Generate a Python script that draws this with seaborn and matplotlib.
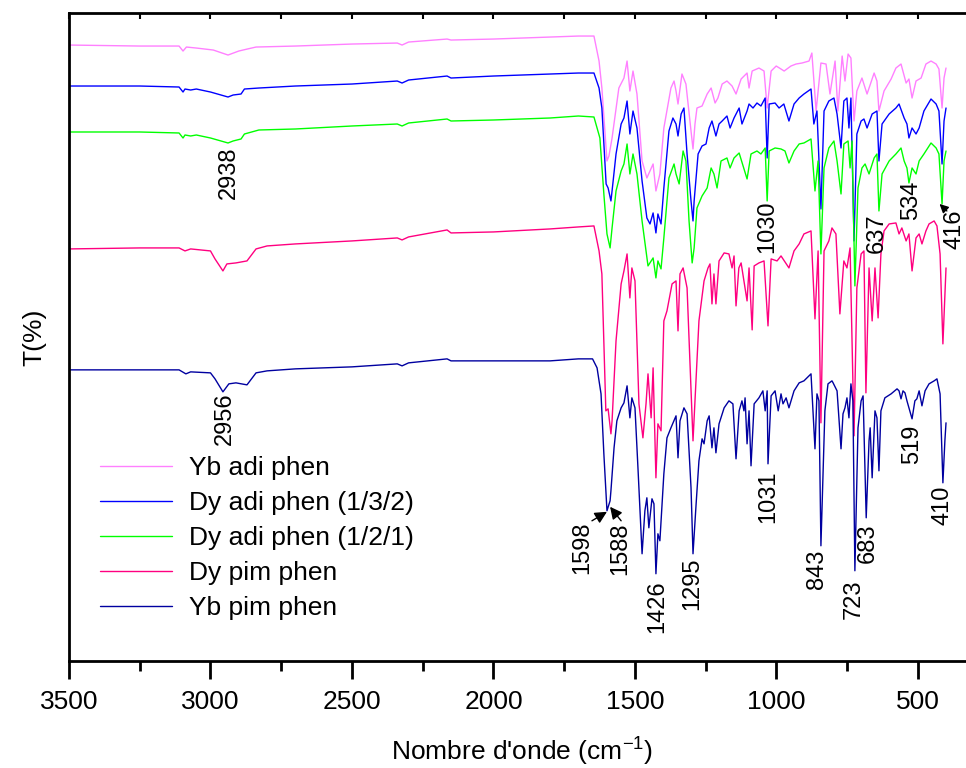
import numpy as np
import pandas as pd
import matplotlib
matplotlib.use('Agg')
import matplotlib.pyplot as plt
import seaborn as sns
from matplotlib.lines import Line2D
from matplotlib.ticker import MultipleLocator

# IR spectra: (wavenumber cm-1, T in arbitrary offset units)
yb_adi = [(4000, 616), (3500, 616), (3250, 615), (3111, 615), (3097, 610), (3085, 614), (3050, 613),
          (2990, 611), (2938, 606), (2900, 610), (2870, 612), (2839, 614), (2700, 615), (2500, 617),
          (2340, 618), (2323, 616), (2300, 619), (2164, 622), (2150, 621), (2000, 622), (1800, 624),
          (1700, 625), (1645, 625), (1627, 600), (1617, 573), (1599, 500), (1592, 505), (1581, 523),
          (1557, 573), (1539, 583), (1528, 600), (1518, 570), (1507, 590), (1493, 567), (1475, 500),
          (1458, 483), (1436, 497), (1426, 470), (1412, 487), (1398, 533), (1373, 573), (1362, 580),
          (1355, 570), (1348, 557), (1334, 587), (1320, 577), (1302, 530), (1295, 512), (1288, 537),
          (1281, 553), (1263, 555), (1245, 567), (1231, 573), (1217, 558), (1207, 563), (1192, 577),
          (1175, 580), (1157, 575), (1143, 567), (1125, 582), (1104, 588), (1097, 573), (1086, 590),
          (1062, 593), (1044, 590), (1033, 553), (1019, 590), (1001, 595), (984, 592), (973, 590),
          (949, 595), (931, 597), (910, 598), (885, 600), (875, 608), (860, 550), (843, 598),
          (825, 597), (811, 567), (793, 600), (783, 550), (768, 605), (758, 580), (747, 607),
          (737, 603), (726, 540), (716, 570), (698, 583), (680, 567), (655, 588), (645, 580),
          (638, 550), (620, 570), (595, 582), (578, 593), (560, 597), (542, 578), (532, 582),
          (521, 563), (507, 580), (489, 583), (472, 597), (454, 600), (436, 597), (426, 592),
          (415, 553), (408, 583), (401, 593)]

dy_adi_132 = [(4000, 575), (3500, 575), (3250, 575), (3111, 574), (3097, 569), (3090, 572), (3070, 571),
              (3050, 572), (3000, 569), (2938, 564), (2920, 566), (2892, 567), (2880, 572), (2829, 573),
              (2700, 575), (2500, 577), (2340, 580), (2323, 578), (2300, 581), (2164, 585), (2150, 583),
              (2000, 585), (1800, 587), (1700, 588), (1645, 588), (1627, 573), (1617, 553), (1602, 477),
              (1595, 473), (1585, 460), (1581, 470), (1567, 507), (1549, 537), (1539, 543), (1528, 560),
              (1518, 527), (1507, 550), (1493, 533), (1475, 480), (1458, 443), (1447, 437), (1436, 448),
              (1426, 428), (1419, 447), (1408, 437), (1398, 473), (1380, 530), (1366, 543), (1355, 537),
              (1348, 525), (1337, 547), (1327, 553), (1316, 507), (1302, 460), (1295, 440), (1291, 460),
              (1277, 507), (1263, 515), (1249, 517), (1238, 533), (1228, 540), (1214, 525), (1203, 537),
              (1192, 540), (1175, 545), (1164, 533), (1150, 543), (1132, 553), (1122, 537), (1104, 550),
              (1097, 557), (1083, 553), (1069, 558), (1055, 555), (1040, 563), (1033, 503), (1026, 557),
              (1005, 558), (991, 553), (974, 557), (956, 540), (938, 557), (920, 563), (903, 567),
              (878, 572), (868, 537), (857, 550), (843, 452), (832, 550), (815, 560), (797, 563),
              (786, 547), (772, 513), (762, 560), (751, 563), (744, 533), (737, 563), (726, 420),
              (716, 527), (701, 540), (691, 542), (680, 533), (662, 547), (645, 550), (638, 500),
              (627, 537), (602, 547), (578, 553), (567, 557), (549, 543), (539, 537), (532, 523),
              (521, 533), (507, 527), (496, 533), (479, 550), (454, 562), (436, 557), (426, 550),
              (415, 497), (408, 540), (401, 553)]

dy_adi_121 = [(4000, 529), (3500, 529), (3250, 529), (3111, 528), (3097, 523), (3090, 526), (3070, 525),
              (3050, 526), (3000, 523), (2938, 518), (2920, 520), (2892, 522), (2880, 527), (2829, 531),
              (2700, 532), (2500, 535), (2340, 537), (2323, 535), (2300, 538), (2164, 542), (2150, 540),
              (2000, 541), (1800, 543), (1700, 545), (1645, 544), (1624, 523), (1610, 467), (1599, 427),
              (1588, 413), (1581, 433), (1567, 470), (1549, 490), (1539, 497), (1528, 517), (1518, 487),
              (1507, 507), (1493, 487), (1475, 440), (1454, 395), (1436, 403), (1426, 383), (1419, 400),
              (1408, 392), (1398, 423), (1380, 483), (1362, 497), (1355, 487), (1344, 477), (1330, 510),
              (1320, 500), (1309, 440), (1298, 398), (1291, 413), (1281, 453), (1263, 465), (1245, 473),
              (1231, 493), (1221, 487), (1210, 473), (1196, 500), (1175, 503), (1164, 493), (1150, 503),
              (1132, 508), (1104, 482), (1090, 507), (1069, 510), (1055, 507), (1040, 513), (1033, 460),
              (1026, 510), (1005, 513), (984, 512), (970, 510), (956, 498), (938, 510), (920, 517),
              (903, 518), (878, 522), (864, 470), (853, 500), (843, 407), (832, 493), (815, 513),
              (797, 520), (786, 500), (772, 467), (762, 517), (747, 520), (740, 493), (733, 520),
              (723, 375), (712, 473), (698, 493), (687, 497), (673, 487), (655, 503), (645, 507),
              (638, 450), (627, 487), (602, 500), (578, 507), (560, 513), (549, 500), (539, 493),
              (532, 478), (521, 493), (507, 487), (496, 500), (479, 507), (454, 518), (436, 513),
              (426, 507), (415, 457), (408, 500), (401, 510)]

dy_pim = [(4000, 412), (3500, 412), (3250, 413), (3111, 413), (3090, 410), (3070, 412), (3000, 410),
          (2984, 402), (2956, 390), (2942, 397), (2910, 398), (2871, 400), (2839, 412), (2800, 415),
          (2700, 417), (2500, 420), (2340, 423), (2323, 421), (2300, 424), (2164, 431), (2150, 428),
          (2000, 429), (1800, 432), (1700, 434), (1645, 435), (1627, 410), (1617, 387), (1603, 250),
          (1595, 252), (1585, 227), (1581, 240), (1567, 320), (1549, 377), (1539, 390), (1528, 407),
          (1518, 363), (1511, 393), (1500, 380), (1486, 257), (1472, 223), (1461, 257), (1454, 287),
          (1443, 243), (1436, 293), (1426, 183), (1419, 237), (1408, 230), (1398, 340), (1387, 350),
          (1369, 377), (1355, 380), (1348, 330), (1341, 387), (1330, 393), (1316, 373), (1295, 220),
          (1274, 340), (1256, 380), (1242, 393), (1235, 397), (1228, 357), (1221, 387), (1214, 357),
          (1203, 400), (1185, 408), (1168, 407), (1157, 393), (1150, 405), (1143, 355), (1133, 393),
          (1125, 398), (1104, 360), (1097, 393), (1086, 331), (1079, 395), (1062, 398), (1044, 400),
          (1030, 335), (1019, 402), (998, 400), (984, 405), (956, 393), (938, 410), (920, 417),
          (903, 427), (878, 430), (864, 342), (853, 410), (843, 238), (832, 410), (815, 420),
          (804, 433), (790, 427), (776, 347), (762, 400), (751, 393), (740, 413), (726, 225),
          (716, 373), (701, 407), (691, 410), (684, 268), (673, 393), (662, 340), (652, 393),
          (641, 343), (631, 407), (620, 430), (602, 437), (578, 438), (567, 427), (557, 433),
          (542, 420), (532, 427), (521, 390), (507, 423), (496, 427), (486, 417), (472, 430),
          (461, 437), (443, 440), (433, 435), (422, 407), (412, 317), (401, 393)]

yb_pim = [(4000, 291), (3500, 291), (3250, 291), (3111, 291), (3087, 287), (3070, 289), (3000, 288),
          (2984, 282), (2956, 269), (2935, 277), (2910, 278), (2871, 276), (2839, 288), (2800, 290),
          (2700, 292), (2500, 294), (2340, 297), (2323, 295), (2300, 298), (2164, 302), (2150, 300),
          (2000, 300), (1800, 300), (1700, 302), (1650, 302), (1634, 293), (1620, 267), (1610, 207),
          (1599, 150), (1588, 160), (1585, 170), (1574, 213), (1564, 240), (1549, 253), (1539, 258),
          (1528, 275), (1518, 243), (1511, 263), (1500, 253), (1489, 190), (1475, 107), (1465, 150),
          (1458, 163), (1451, 133), (1440, 162), (1433, 157), (1426, 87), (1419, 127), (1412, 120),
          (1398, 187), (1387, 223), (1373, 233), (1355, 245), (1348, 203), (1341, 240), (1327, 253),
          (1316, 247), (1302, 173), (1295, 107), (1284, 157), (1274, 200), (1263, 222), (1256, 217),
          (1245, 240), (1238, 245), (1228, 213), (1221, 233), (1214, 208), (1203, 237), (1185, 253),
          (1168, 260), (1154, 257), (1143, 202), (1132, 250), (1122, 260), (1115, 250), (1111, 263),
          (1104, 217), (1097, 250), (1090, 195), (1079, 257), (1062, 263), (1048, 270), (1040, 250),
          (1033, 270), (1030, 197), (1019, 265), (1005, 270), (994, 250), (984, 267), (977, 257),
          (966, 263), (956, 253), (938, 270), (920, 278), (903, 280), (885, 285), (878, 287),
          (864, 212), (857, 267), (850, 260), (843, 115), (829, 250), (818, 277), (804, 280),
          (800, 278), (786, 270), (772, 212), (765, 247), (758, 253), (751, 263), (744, 243),
          (737, 277), (730, 260), (723, 90), (712, 233), (701, 260), (694, 265), (683, 143),
          (673, 220), (669, 233), (662, 183), (652, 250), (645, 243), (638, 190), (631, 250),
          (617, 263), (595, 267), (574, 272), (567, 270), (560, 262), (553, 270), (546, 268),
          (539, 260), (521, 242), (511, 260), (504, 262), (496, 270), (486, 255), (475, 270),
          (461, 277), (443, 280), (433, 282), (422, 267), (412, 178), (405, 220), (401, 238)]

names = ['Yb adi phen', 'Dy adi phen (1/3/2)', 'Dy adi phen (1/2/1)', 'Dy pim phen', 'Yb pim phen']
colors = ['#FF80FF', '#0000FF', '#00FF00', '#FF0080', '#0000A0']
spectra = [yb_adi, dy_adi_132, dy_adi_121, dy_pim, yb_pim]

# peak labels and where the text sits (wavenumber, T)
peak_labels = ['2938', '2956', '1598', '1588', '1426', '1295', '1031', '843', '723', '683', '519', '410',
               '1030', '637', '534', '416']
label_pos = [(2935, 488), (2948, 242), (1687, 113), (1553, 112), (1422, 54), (1298, 77), (1030, 164),
             (857, 91), (726, 61), (677, 118), (521, 217), (415, 155), (1033, 434), (645, 428),
             (525, 461), (372, 432)]

frames = []
for name, spec in zip(names, spectra):
    wn, t = zip(*spec)
    frames.append(pd.DataFrame({'wn': wn, 'T': t, 'sample': name}))
df = pd.concat(frames, ignore_index=True)

sns.set_theme(style='white')
plt.rcParams['font.family'] = ['Liberation Sans', 'DejaVu Sans']
plt.rcParams['mathtext.fontset'] = 'custom'
plt.rcParams['mathtext.rm'] = 'Liberation Sans'
plt.rcParams['mathtext.it'] = 'Liberation Sans'
plt.rcParams['text.color'] = 'black'
plt.rcParams['axes.labelcolor'] = 'black'
plt.rcParams['xtick.color'] = 'black'

fig = plt.figure(figsize=(9.66, 7.68), dpi=100)
ax = fig.add_axes([0.0714, 0.1397, 0.9375, 0.8433])

sns.lineplot(data=df, x='wn', y='T', hue='sample', hue_order=names, palette=colors,
             estimator=None, sort=False, linewidth=1.0, legend=False, ax=ax)

ax.set_xlim(3500, 300)
ax.set_ylim(0, 648)
ax.set_yticks([])
ax.xaxis.set_major_locator(MultipleLocator(500))
ax.xaxis.set_minor_locator(MultipleLocator(250))
ax.tick_params(axis='x', which='major', direction='out', length=13, width=2, labelsize=19,
               pad=8, bottom=True, colors='black')
ax.tick_params(axis='x', which='minor', direction='out', length=7, width=2, bottom=True)
for side in ['left', 'bottom', 'top', 'right']:
    ax.spines[side].set_linewidth(2)
    ax.spines[side].set_color('black')

top = ax.secondary_xaxis('top')
top.xaxis.set_major_locator(MultipleLocator(500))
top.xaxis.set_minor_locator(MultipleLocator(250))
top.tick_params(which='both', direction='in', length=4, width=1.5, labeltop=False)
top.spines['top'].set_visible(False)

ax.set_xlabel("Nombre d'onde (cm$^{-1}$)", fontsize=19, labelpad=16, color='black')
ax.set_ylabel('T(%)', fontsize=19, labelpad=16, color='black')

for lab, (x, y) in zip(peak_labels, label_pos):
    ax.text(x, y, lab, rotation=90, ha='center', va='center', fontsize=17, color='black')

arrow = dict(arrowstyle='-|>', color='black', lw=1, mutation_scale=18, shrinkA=0, shrinkB=0)
ax.annotate('', xy=(1599, 149), xytext=(1652, 140), arrowprops=arrow)
ax.annotate('', xy=(1588, 154), xytext=(1549, 140), arrowprops=arrow)
small_arrow = dict(arrowstyle='-|>', color='black', lw=1, mutation_scale=13, shrinkA=0, shrinkB=0)
ax.annotate('', xy=(424, 457), xytext=(398, 450), arrowprops=small_arrow)

handles = [Line2D([], [], color=c, lw=1.0) for c in colors]
ax.legend(handles, names, loc='upper left', bbox_to_anchor=(0.034, 0.316), frameon=False,
          fontsize=19, handlelength=2.75, handletextpad=0.65, labelspacing=0.42,
          borderpad=0, borderaxespad=0, labelcolor='black')

fig.savefig('out.png', dpi=100)
